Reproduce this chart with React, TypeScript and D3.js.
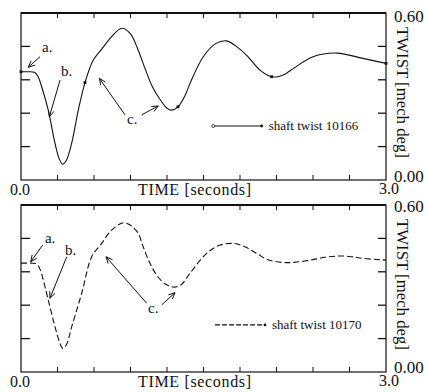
import * as d3 from 'd3';
import React from 'react';

// ---- data ----
const twist10166: [number, number][] = [
  [0.0, 0.389], [0.06, 0.389], [0.11, 0.387], [0.14, 0.372], [0.17, 0.335],
  [0.224, 0.251], [0.279, 0.133], [0.315, 0.075], [0.343, 0.057], [0.37, 0.068],
  [0.417, 0.133], [0.471, 0.251], [0.526, 0.35], [0.594, 0.431], [0.663, 0.47],
  [0.745, 0.515], [0.828, 0.545], [0.9, 0.525], [0.96, 0.47], [1.02, 0.4],
  [1.08, 0.335], [1.142, 0.29], [1.2, 0.258], [1.239, 0.251], [1.29, 0.263],
  [1.35, 0.305], [1.389, 0.347], [1.498, 0.443], [1.6, 0.49], [1.69, 0.5],
  [1.77, 0.48], [1.855, 0.448], [1.964, 0.395], [2.06, 0.371], [2.12, 0.372],
  [2.18, 0.383], [2.24, 0.401], [2.4, 0.443], [2.595, 0.456], [2.81, 0.437],
  [3.0, 0.419],
];
const markers10166: [number, number][] = [
  [0.0, 0.389], [0.526, 0.35], [1.29, 0.263], [2.06, 0.371], [3.0, 0.419],
];

const twist10170: [number, number][] = [
  [0.0, 0.391], [0.08, 0.391], [0.13, 0.388], [0.16, 0.365], [0.183, 0.331],
  [0.224, 0.259], [0.279, 0.163], [0.315, 0.11], [0.343, 0.085], [0.375, 0.1],
  [0.417, 0.163], [0.499, 0.283], [0.581, 0.414], [0.663, 0.462], [0.745, 0.51],
  [0.841, 0.536], [0.9, 0.527], [0.964, 0.498], [1.0, 0.455], [1.05, 0.4],
  [1.12, 0.345], [1.19, 0.315], [1.26, 0.305], [1.32, 0.315], [1.389, 0.355],
  [1.526, 0.426], [1.63, 0.455], [1.745, 0.462], [1.84, 0.45], [1.937, 0.426],
  [2.02, 0.405], [2.102, 0.396], [2.18, 0.393], [2.25, 0.394], [2.375, 0.402],
  [2.5, 0.412], [2.622, 0.417], [2.72, 0.414], [2.813, 0.408], [3.0, 0.402],
];

const xTicks = [0.3, 0.6, 0.9, 1.2, 1.5, 1.8, 2.1, 2.4, 2.7];
const yTicks = [0.12, 0.24, 0.36, 0.48];

// annotation labels: [text, t, v] and arrows: [t0, v0, t1, v1]
const labels10166: [string, number, number][] = [
  ['a.', 0.173, 0.46], ['b.', 0.329, 0.374], ['c.', 0.871, 0.201],
];
const arrows10166: [number, number, number, number][] = [
  [0.156, 0.443, 0.06, 0.405], [0.321, 0.359, 0.233, 0.227],
  [0.855, 0.234, 0.644, 0.365], [0.992, 0.234, 1.128, 0.266],
];
const labels10170: [string, number, number][] = [
  ['a.', 0.197, 0.463], ['b.', 0.362, 0.42], ['c.', 1.044, 0.212],
];
const arrows10170: [number, number, number, number][] = [
  [0.178, 0.456, 0.08, 0.396], [0.376, 0.414, 0.238, 0.265],
  [1.033, 0.247, 0.699, 0.414], [1.156, 0.241, 1.266, 0.285],
];

const FONT = '"Liberation Serif", "Times New Roman", Times, serif';
const INK = '#111';

interface PanelProps {
  top: number;
  series: [number, number][];
  dashed?: boolean;
  markers?: [number, number][];
  labels: [string, number, number][];
  arrows: [number, number, number, number][];
  legendName: string;
  legendT: [number, number];
  legendV: number;
  idx: number;
}

const left = 21;
const right = 386;
const ph = 167;

const Panel: React.FC<PanelProps> = ({
  top, series, dashed, markers, labels, arrows, legendName, legendT, legendV, idx,
}) => {
  const bottom = top + ph;
  const x = d3.scaleLinear().domain([0, 3]).range([left, right]);
  const y = d3.scaleLinear().domain([0, 0.6]).range([bottom, top]);
  const line = d3.line<[number, number]>()
    .x((d) => x(d[0]))
    .y((d) => y(d[1]))
    .curve(d3.curveCatmullRom.alpha(0.5));

  // open V arrowhead at end of each annotation arrow
  const head = (a: [number, number, number, number]) => {
    const x0 = x(a[0]), y0 = y(a[1]), x1 = x(a[2]), y1 = y(a[3]);
    const ang = Math.atan2(y1 - y0, x1 - x0);
    const L = 7, s = 0.42;
    const p1 = [x1 - L * Math.cos(ang - s), y1 - L * Math.sin(ang - s)];
    const p2 = [x1 - L * Math.cos(ang + s), y1 - L * Math.sin(ang + s)];
    return `M${p1[0]},${p1[1]}L${x1},${y1}L${p2[0]},${p2[1]}`;
  };

  return (
    <g>
      {/* frame */}
      <rect x={left} y={top} width={right - left} height={ph} fill="none" stroke={INK} strokeWidth={1.2} />
      <line x1={left} x2={right} y1={top} y2={top} stroke={INK} strokeWidth={2} />
      {xTicks.map((t) => (
        <g key={'xt' + t}>
          <line x1={x(t)} x2={x(t)} y1={top} y2={top + 5} stroke={INK} strokeWidth={1} />
          <line x1={x(t)} x2={x(t)} y1={bottom} y2={bottom - 5} stroke={INK} strokeWidth={1} />
        </g>
      ))}
      {yTicks.map((v) => (
        <g key={'yt' + v}>
          <line x1={left} x2={left + 9} y1={y(v)} y2={y(v)} stroke={INK} strokeWidth={1.3} />
          <line x1={right} x2={right - 8} y1={y(v)} y2={y(v)} stroke={INK} strokeWidth={1.3} />
        </g>
      ))}

      {/* curve */}
      <path d={line(series) || ''} fill="none" stroke={INK} strokeWidth={1.1}
        strokeDasharray={dashed ? '6,3' : undefined} />
      {markers && markers.map((m, i) => (
        <rect key={'m' + i} x={x(m[0]) - 1.4} y={y(m[1]) - 1.4} width={2.8} height={2.8} fill={INK} />
      ))}

      {/* annotations */}
      {labels.map((l) => (
        <text key={'l' + l[0]} x={x(l[1])} y={y(l[2])} fontFamily={FONT} fontSize={15} fill={INK}>{l[0]}</text>
      ))}
      {arrows.map((a, i) => (
        <g key={'a' + i}>
          <line x1={x(a[0])} y1={y(a[1])} x2={x(a[2])} y2={y(a[3])} stroke={INK} strokeWidth={1} />
          <path d={head(a)} fill="none" stroke={INK} strokeWidth={1} />
        </g>
      ))}

      {/* legend */}
      <line x1={x(legendT[0])} x2={x(legendT[1])} y1={y(legendV)} y2={y(legendV)} stroke={INK}
        strokeWidth={1.2} strokeDasharray={dashed ? '5,2' : undefined} />
      {!dashed && <circle cx={x(legendT[0])} cy={y(legendV)} r={1.5} fill="#fff" stroke={INK} strokeWidth={0.8} />}
      <circle cx={x(legendT[1])} cy={y(legendV)} r={1.4} fill={INK} />
      <text x={x(legendT[1]) + 7} y={y(legendV) + 4} fontFamily={FONT} fontSize={13} fill={INK}>{legendName}</text>

      {/* axis labels */}
      <text x={left - 11} y={bottom + 15} fontFamily={FONT} fontSize={16} fill={INK}>0.0</text>
      <text x={138} y={bottom + 15} fontFamily={FONT} fontSize={16} fill={INK} textLength={113} lengthAdjust="spacing">TIME [seconds]</text>
      <text x={right + 3} y={bottom + 14} fontFamily={FONT} fontSize={16} fill={INK} textAnchor="middle">3.0</text>
      <text x={right + 8} y={top + 9 - idx * 2} fontFamily={FONT} fontSize={17} fill={INK}>0.60</text>
      <text x={right + 8} y={bottom + 2 - idx} fontFamily={FONT} fontSize={17} fill={INK}>0.00</text>
      <text transform={`translate(${right + 11},${(top + bottom) / 2 - 4}) rotate(90)`} fontFamily={FONT}
        fontSize={16} fill={INK} textAnchor="middle" textLength={131} lengthAdjust="spacingAndGlyphs">TWIST [mech deg]</text>
    </g>
  );
};

export default function App() {
  return (
    <svg width={428} height={392} style={{ position: 'absolute', left: 0, top: 0, background: '#fff' }}>
      <rect width={428} height={392} fill="#fff" />
      <Panel top={13} series={twist10166} markers={markers10166} labels={labels10166} arrows={arrows10166}
        legendName="shaft twist 10166" legendT={[1.58, 1.978]} legendV={0.194} idx={0} />
      <Panel top={205} series={twist10170} dashed labels={labels10170} arrows={arrows10170}
        legendName="shaft twist 10170" legendT={[1.595, 2.005]} legendV={0.169} idx={1} />
    </svg>
  );
}
